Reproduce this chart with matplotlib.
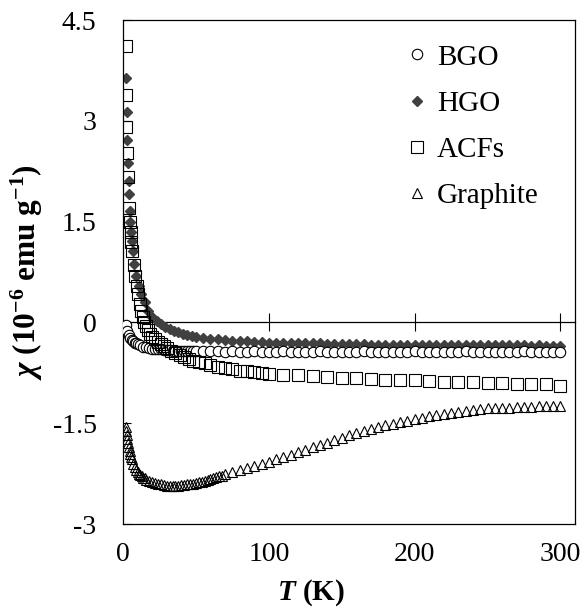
import matplotlib
matplotlib.use("Agg")
import matplotlib.pyplot as plt

# ---- data (T in K, chi in 1e-6 emu/g) ----
T_bgo = [2, 3, 4, 5, 6, 7, 8, 9, 10, 12, 14, 16, 18, 20, 22, 24, 26, 28, 30,
         32, 34, 36, 38, 40, 42, 44, 46, 48, 50, 55, 60, 65, 70, 75, 80, 85,
         90, 95, 100, 105, 110, 115, 120, 125, 130, 135, 140, 145, 150, 155,
         160, 165, 170, 175, 180, 185, 190, 195, 200, 205, 210, 215, 220, 225,
         230, 235, 240, 245, 250, 255, 260, 265, 270, 275, 280, 285, 290, 295,
         300]
chi_bgo = [-0.04, -0.13, -0.19, -0.23, -0.26, -0.28, -0.30, -0.31, -0.32,
           -0.34, -0.36, -0.37, -0.38, -0.39, -0.40, -0.40, -0.40, -0.41,
           -0.41, -0.41, -0.42, -0.42, -0.42, -0.42, -0.42, -0.43, -0.43,
           -0.43, -0.43, -0.43, -0.43, -0.43, -0.44, -0.43, -0.44, -0.44,
           -0.43, -0.44, -0.44, -0.44, -0.43, -0.44, -0.44, -0.44, -0.44,
           -0.43, -0.44, -0.44, -0.44, -0.44, -0.44, -0.43, -0.44, -0.44,
           -0.44, -0.44, -0.44, -0.44, -0.43, -0.44, -0.44, -0.44, -0.44,
           -0.44, -0.44, -0.43, -0.44, -0.44, -0.44, -0.44, -0.44, -0.44,
           -0.44, -0.43, -0.44, -0.44, -0.44, -0.44, -0.44]

T_hgo = [2.35, 2.7, 3.05, 3.45, 3.85, 4.1, 4.6, 5.1, 5.6, 6.1, 6.7, 7.8, 9.2,
         10.8, 12.5, 14.9, 17, 20, 23, 26, 29, 32, 35, 38, 41, 44, 47, 50, 55,
         60, 65, 70, 75, 80, 85, 90, 95, 100, 105, 110, 115, 120, 125, 130,
         135, 140, 145, 150, 155, 160, 165, 170, 175, 180, 185, 190, 195, 200,
         205, 210, 215, 220, 225, 230, 235, 240, 245, 250, 255, 260, 265, 270,
         275, 280, 285, 290, 295, 300]
chi_hgo = [3.63, 3.13, 2.72, 2.37, 2.10, 1.91, 1.66, 1.49, 1.34, 1.21, 1.06,
           0.87, 0.69, 0.54, 0.42, 0.30, 0.17, 0.08, 0.02, -0.03, -0.07,
           -0.10, -0.13, -0.15, -0.17, -0.19, -0.20, -0.21, -0.23, -0.24,
           -0.25, -0.26, -0.27, -0.28, -0.28, -0.29, -0.29, -0.30, -0.30,
           -0.30, -0.31, -0.31, -0.31, -0.31, -0.31, -0.32, -0.32, -0.32,
           -0.32, -0.32, -0.32, -0.33, -0.33, -0.33, -0.33, -0.33, -0.33,
           -0.33, -0.33, -0.33, -0.34, -0.34, -0.34, -0.34, -0.34, -0.34,
           -0.34, -0.34, -0.34, -0.34, -0.34, -0.34, -0.34, -0.35, -0.34,
           -0.35, -0.35, -0.35]

T_acf = [1.8, 2.1, 2.4, 2.7, 3.1, 4.0, 4.6, 5.2, 5.8, 6.5, 7.5, 8.5, 9.5, 10.5,
         11.5, 12.5, 13.5, 14.5, 15.5, 17, 18.5, 20, 22, 24, 26, 28, 30, 33,
         36, 39, 42, 45, 48, 52, 56, 60, 65, 70, 75, 80, 85, 90, 95, 100, 110,
         120, 130, 140, 150, 160, 170, 180, 190, 200, 210, 220, 230, 240, 250,
         260, 270, 280, 290, 300]
chi_acf = [4.12, 3.38, 2.91, 2.52, 2.17, 1.70, 1.50, 1.34, 1.20, 1.06, 0.85,
           0.69, 0.54, 0.42, 0.28, 0.17, 0.08, 0.00, -0.06, -0.12, -0.17,
           -0.21, -0.25, -0.29, -0.32, -0.35, -0.38, -0.42, -0.46, -0.49,
           -0.52, -0.55, -0.57, -0.59, -0.61, -0.63, -0.66, -0.68, -0.70,
           -0.72, -0.73, -0.74, -0.75, -0.77, -0.78, -0.79, -0.80, -0.81,
           -0.82, -0.83, -0.84, -0.85, -0.85, -0.86, -0.87, -0.88, -0.88,
           -0.89, -0.90, -0.90, -0.91, -0.92, -0.92, -0.94]

T_gra = [1.8, 2.2, 2.6, 3.0, 3.5, 4, 4.5, 5, 5.5, 6, 7, 8, 9, 10, 11, 12, 13,
         14, 15, 16, 18, 20, 22, 24, 26, 28, 30, 32, 34, 36, 38, 40, 42, 44,
         46, 48, 50, 52, 54, 56, 58, 60, 62, 64, 66, 68, 70, 75, 80, 85, 90,
         95, 100, 105, 110, 115, 120, 125, 130, 135, 140, 145, 150, 155, 160,
         165, 170, 175, 180, 185, 190, 195, 200, 205, 210, 215, 220, 225, 230,
         235, 240, 245, 250, 255, 260, 265, 270, 275, 280, 285, 290, 295, 300]
chi_gra = [-1.55, -1.62, -1.68, -1.74, -1.80, -1.86, -1.92, -1.96, -2.00,
           -2.04, -2.10, -2.15, -2.19, -2.22, -2.25, -2.27, -2.29, -2.31,
           -2.32, -2.34, -2.36, -2.38, -2.39, -2.40, -2.41, -2.42, -2.43,
           -2.43, -2.43, -2.43, -2.43, -2.42, -2.42, -2.41, -2.40, -2.40,
           -2.39, -2.38, -2.37, -2.36, -2.34, -2.33, -2.32, -2.30, -2.29,
           -2.28, -2.26, -2.23, -2.20, -2.17, -2.13, -2.10, -2.07, -2.03,
           -2.00, -1.97, -1.93, -1.90, -1.86, -1.82, -1.79, -1.75, -1.72,
           -1.68, -1.65, -1.61, -1.58, -1.56, -1.53, -1.51, -1.48, -1.46,
           -1.44, -1.42, -1.40, -1.38, -1.36, -1.35, -1.33, -1.32, -1.30,
           -1.29, -1.28, -1.28, -1.27, -1.27, -1.26, -1.26, -1.26, -1.25,
           -1.25, -1.25, -1.24]

x_ticks = [0, 100, 200, 300]
y_ticks = [-3, -1.5, 0, 1.5, 3, 4.5]
y_tick_labels = ["-3", "-1.5", "0", "1.5", "3", "4.5"]

plt.rcParams.update({
    "font.family": "Liberation Serif",
    "mathtext.fontset": "custom",
    "mathtext.rm": "Liberation Serif:bold",
    "mathtext.it": "Liberation Serif:bold:italic",
    "mathtext.bf": "Liberation Serif:bold",
    "axes.unicode_minus": False,
})

fig = plt.figure(figsize=(5.86, 6.12), dpi=100)
ax = fig.add_axes([123 / 586, 1 - 524 / 612, 452 / 586, 504 / 612])

ax.plot(T_hgo, chi_hgo, ls="none", marker="D", ms=4.7, color="#404040",
        mec="#404040", label="HGO", zorder=2)
ax.plot(T_bgo, chi_bgo, ls="none", marker="o", ms=7.5, mfc="white",
        mec="black", mew=0.8, label="BGO", zorder=3)
ax.plot(T_acf, chi_acf, ls="none", marker="s", ms=8, mfc="none",
        mec="black", mew=0.8, label="ACFs", zorder=4)
ax.plot(T_gra, chi_gra, ls="none", marker="^", ms=7.5, mfc="none",
        mec="black", mew=0.8, label="Graphite", zorder=4)

ax.set_xlim(0, 310)
ax.set_ylim(-3, 4.5)
ax.set_xticks(x_ticks)
ax.set_yticks(y_ticks, y_tick_labels)
ax.tick_params(axis="x", length=0, pad=13, labelsize=20)
ax.tick_params(axis="y", direction="in", length=6, width=0.8, pad=19,
               labelsize=20)
for s in ax.spines.values():
    s.set_linewidth(0.9)

# horizontal axis crossing at chi = 0 with cross ticks
sec = ax.secondary_xaxis(0, transform=ax.transData)
sec.set_xticks(x_ticks[1:])
sec.tick_params(direction="inout", length=13, width=0.8,
                labelbottom=False, labeltop=False)
for s in sec.spines.values():
    s.set_linewidth(0.9)

ax.set_xlabel(r"$T$ (K)", fontsize=21, fontweight="bold")
ax.xaxis.set_label_coords(0.416, -0.105)
ax.set_ylabel(r"$\chi$ (10$^{-6}$ emu g$^{-1}$)", fontsize=22.5,
              fontweight="bold")
ax.yaxis.set_label_coords(-0.172, 0.5)

handles, labels = ax.get_legend_handles_labels()
order = [1, 0, 2, 3]
ax.legend([handles[i] for i in order], [labels[i] for i in order],
          loc="upper left", bbox_to_anchor=(0.624, 0.952), frameon=False,
          fontsize=21, handlelength=0.8, handletextpad=0.3,
          labelspacing=0.68, borderaxespad=0, borderpad=0)

fig.savefig("out.png", dpi=100)
